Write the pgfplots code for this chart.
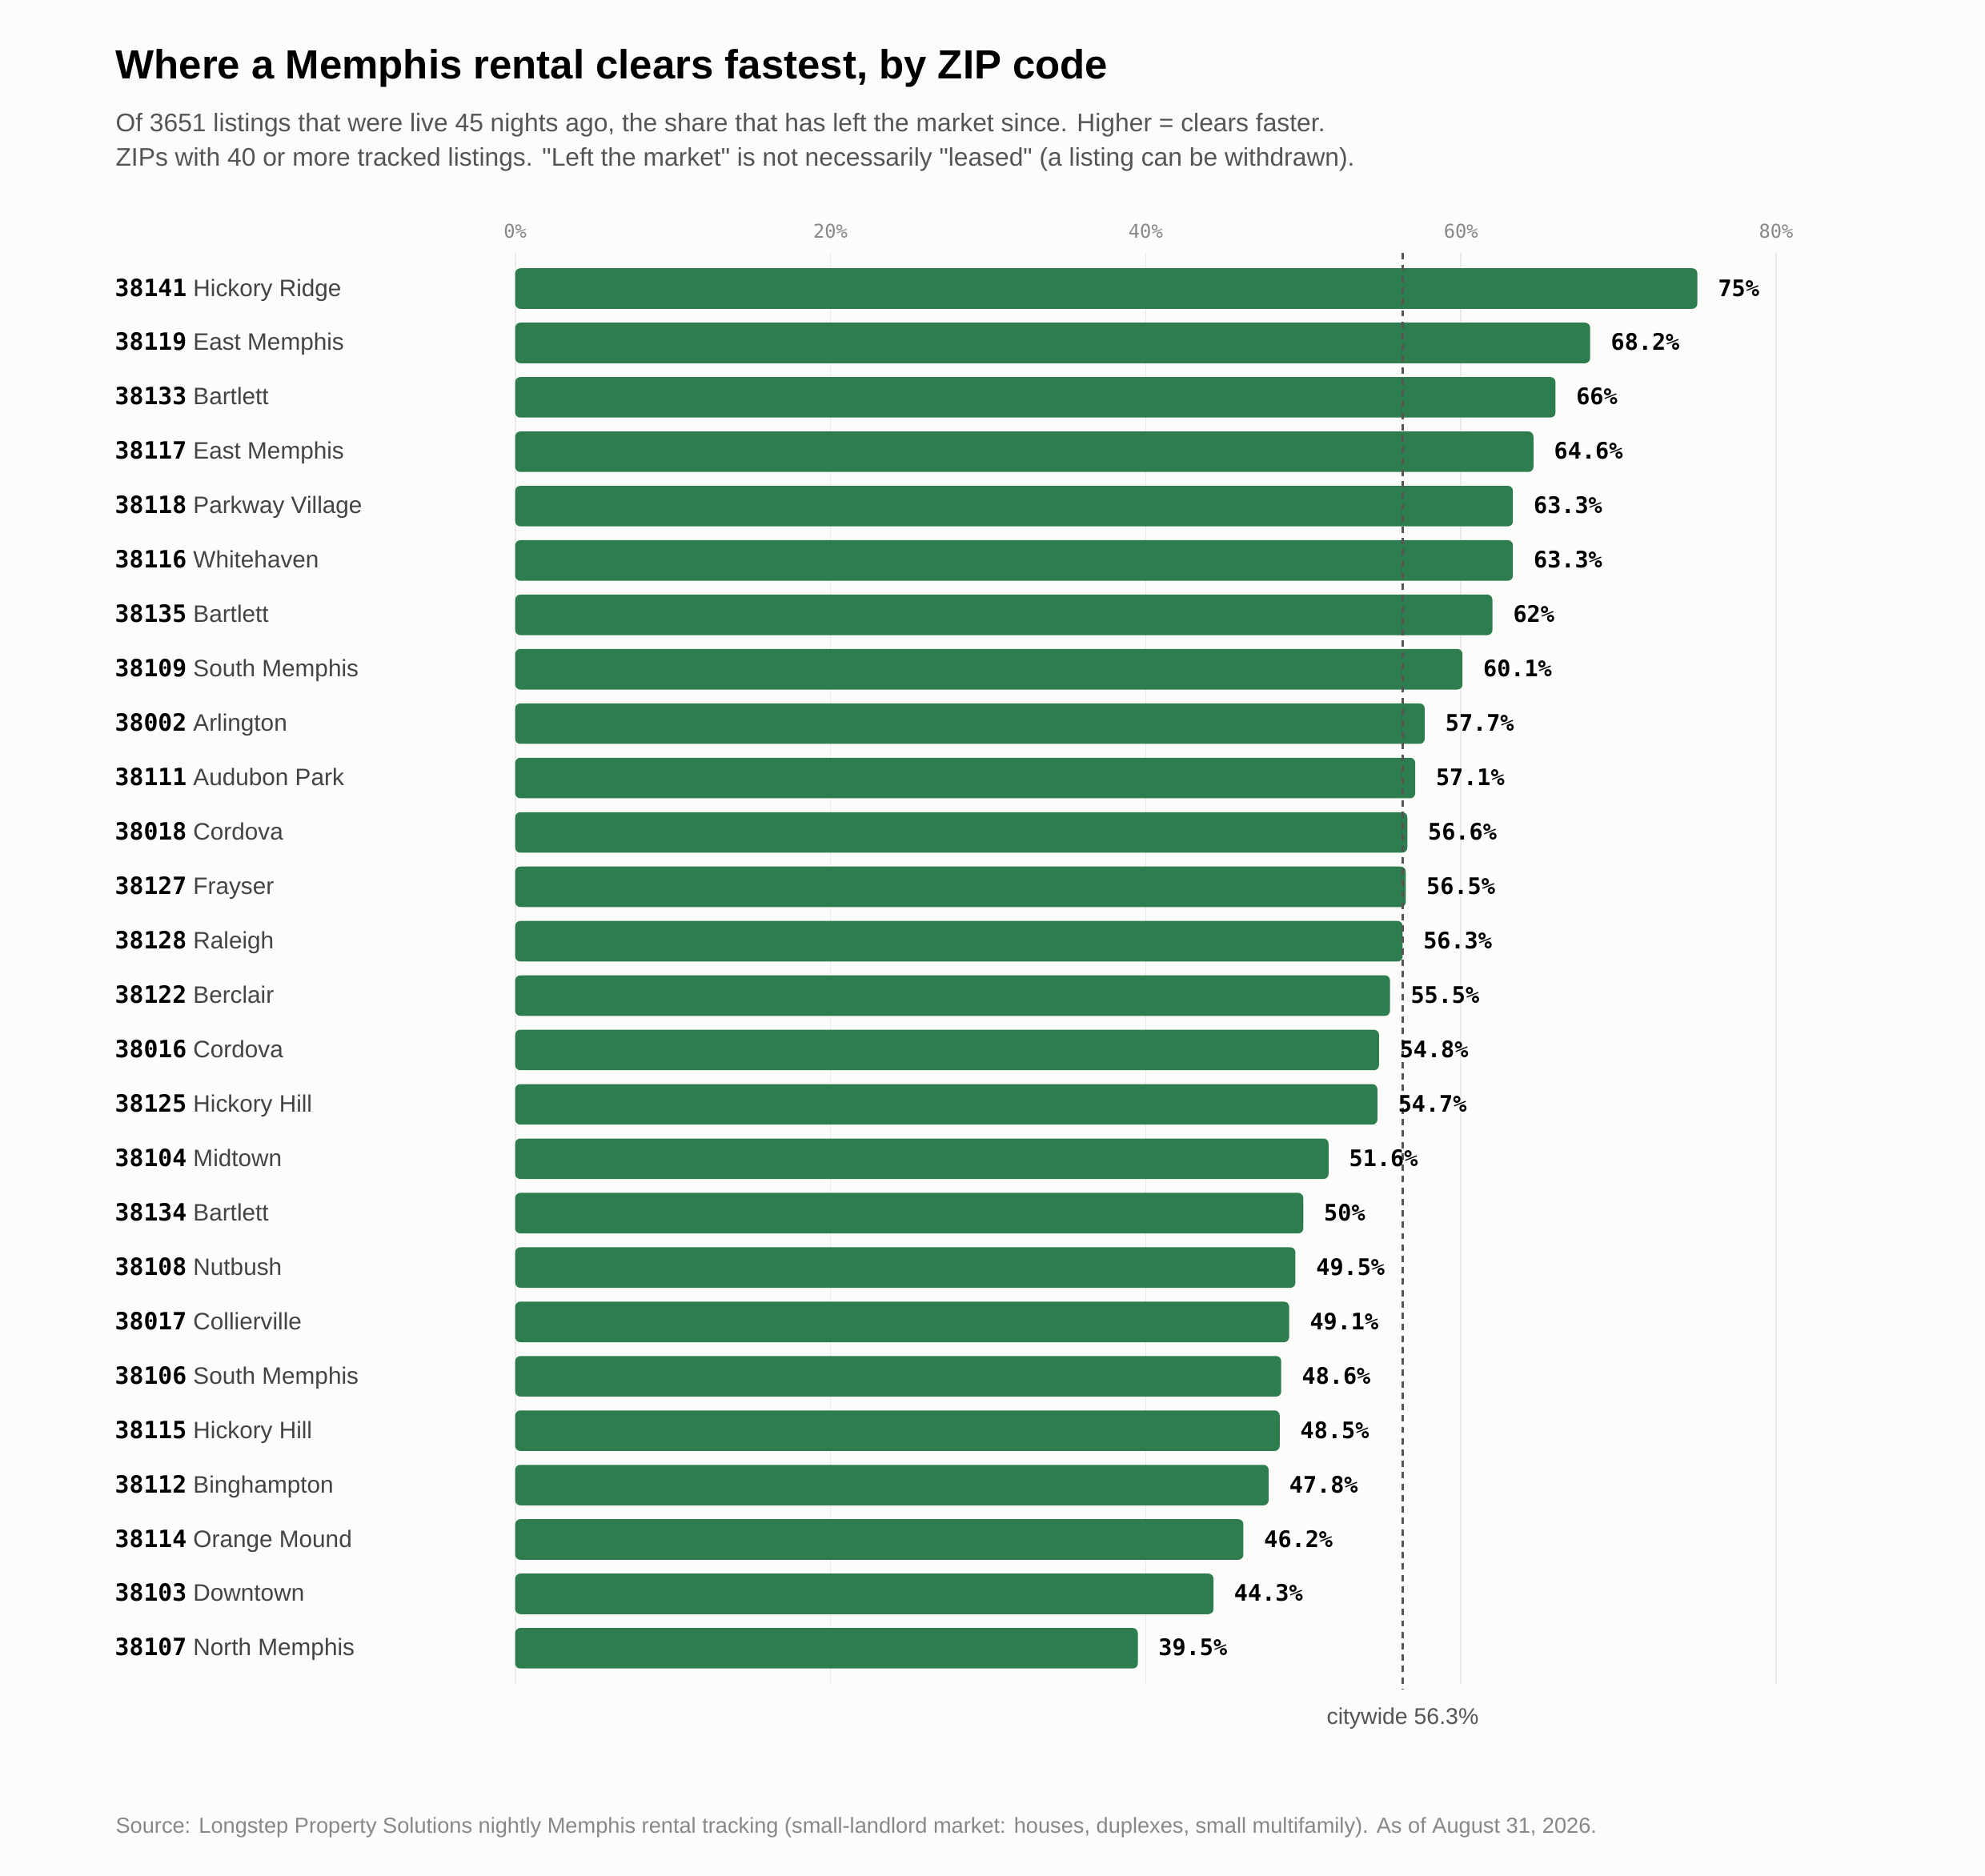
\documentclass[border=0pt]{standalone}
\usepackage{pgfplots}
\pgfplotsset{compat=1.18}
\usepackage{fontspec}
\setmainfont{Liberation Sans}[Ligatures=TeXOff]
\newfontfamily\monof{DejaVu Sans Mono}
\definecolor{bg}{RGB}{252,252,250}
\definecolor{bargreen}{RGB}{46,125,79}
\definecolor{subgray}{RGB}{85,85,85}
\definecolor{namegray}{RGB}{68,68,68}
\definecolor{tickgray}{RGB}{136,136,136}
\definecolor{gridgray}{RGB}{234,234,234}
\newcommand{\zip}[1]{{\monof\bfseries\color{black}#1}}
\begin{document}
\begin{tikzpicture}
\fill[bg] (0,0) rectangle (784pt,-741pt);
\path[use as bounding box] (0,0) rectangle (784pt,-741pt);
\node[anchor=base west, inner sep=0pt, font=\fontsize{16.1}{20}\selectfont\bfseries] at (45.5pt,-31pt) {Where a Memphis rental clears fastest, by ZIP code};
\node[anchor=base west, inner sep=0pt, font=\fontsize{10.05}{12}\selectfont, text=subgray] at (45.5pt,-52pt) {Of 3651 listings that were live 45 nights ago, the share that has left the market since. Higher = clears faster.};
\node[anchor=base west, inner sep=0pt, font=\fontsize{10.05}{12}\selectfont, text=subgray] at (45.5pt,-65.5pt) {ZIPs with 40 or more tracked listings. "Left the market" is not necessarily "leased" (a listing can be withdrawn).};
\begin{axis}[
  at={(203.5pt,-100pt)}, anchor=north west,
  scale only axis, width=498pt, height=565pt,
  xmin=0, xmax=80, ymin=-0.65, ymax=25.65,
  y dir=reverse,
  xbar, bar width=16pt,
  axis line style={draw=none},
  tick style={draw=none},
  xmajorgrids, major grid style={gridgray, line width=0.5pt},
  xtick={0,20,40,60,80},
  xticklabels={0\%,20\%,40\%,60\%,80\%},
  xticklabel pos=upper,
  xticklabel style={anchor=south, inner sep=0pt, yshift=5.5pt, font=\monof\fontsize{7.5}{9}\selectfont, text=tickgray},
  ytick={0,...,25},
  yticklabels={
    \zip{38141} Hickory Ridge,
    \zip{38119} East Memphis,
    \zip{38133} Bartlett,
    \zip{38117} East Memphis,
    \zip{38118} Parkway Village,
    \zip{38116} Whitehaven,
    \zip{38135} Bartlett,
    \zip{38109} South Memphis,
    \zip{38002} Arlington,
    \zip{38111} Audubon Park,
    \zip{38018} Cordova,
    \zip{38127} Frayser,
    \zip{38128} Raleigh,
    \zip{38122} Berclair,
    \zip{38016} Cordova,
    \zip{38125} Hickory Hill,
    \zip{38104} Midtown,
    \zip{38134} Bartlett,
    \zip{38108} Nutbush,
    \zip{38017} Collierville,
    \zip{38106} South Memphis,
    \zip{38115} Hickory Hill,
    \zip{38112} Binghampton,
    \zip{38114} Orange Mound,
    \zip{38103} Downtown,
    \zip{38107} North Memphis},
  yticklabel style={anchor=west, inner sep=0pt, xshift=-154pt, text height=8pt, text depth=2pt, font=\fontsize{9.4}{11}\selectfont, text=namegray},
  point meta=x,
  nodes near coords={\pgfmathprintnumber[assume math mode=true]{\pgfplotspointmeta}\%},
  every node near coord/.append style={anchor=west, inner sep=0pt, xshift=8pt, text height=8pt, text depth=2pt, font=\monof\bfseries\fontsize{9}{11}\selectfont, text=black},
  clip=false,
]
\addplot[fill=bargreen, draw=none, rounded corners=2pt] coordinates {
(75,0) (68.2,1) (66,2) (64.6,3) (63.3,4) (63.3,5) (62,6) (60.1,7)
(57.7,8) (57.1,9) (56.6,10) (56.5,11) (56.3,12) (55.5,13) (54.8,14)
(54.7,15) (51.6,16) (50,17) (49.5,18) (49.1,19) (48.6,20) (48.5,21)
(47.8,22) (46.2,23) (44.3,24) (39.5,25)};
\draw[subgray, line width=0.8pt, dash pattern=on 2.5pt off 2pt] (axis cs:56.3,-0.65) -- (axis cs:56.3,25.75);
\end{axis}
\node[anchor=base, inner sep=0pt, font=\fontsize{9}{11}\selectfont, text=subgray] at (554pt,-681pt) {citywide 56.3\%};
\node[anchor=base west, inner sep=0pt, font=\fontsize{8.6}{10}\selectfont, text=tickgray] at (45.5pt,-724pt) {Source: Longstep Property Solutions nightly Memphis rental tracking (small-landlord market: houses, duplexes, small multifamily). As of August 31, 2026.};
\end{tikzpicture}
\end{document}
